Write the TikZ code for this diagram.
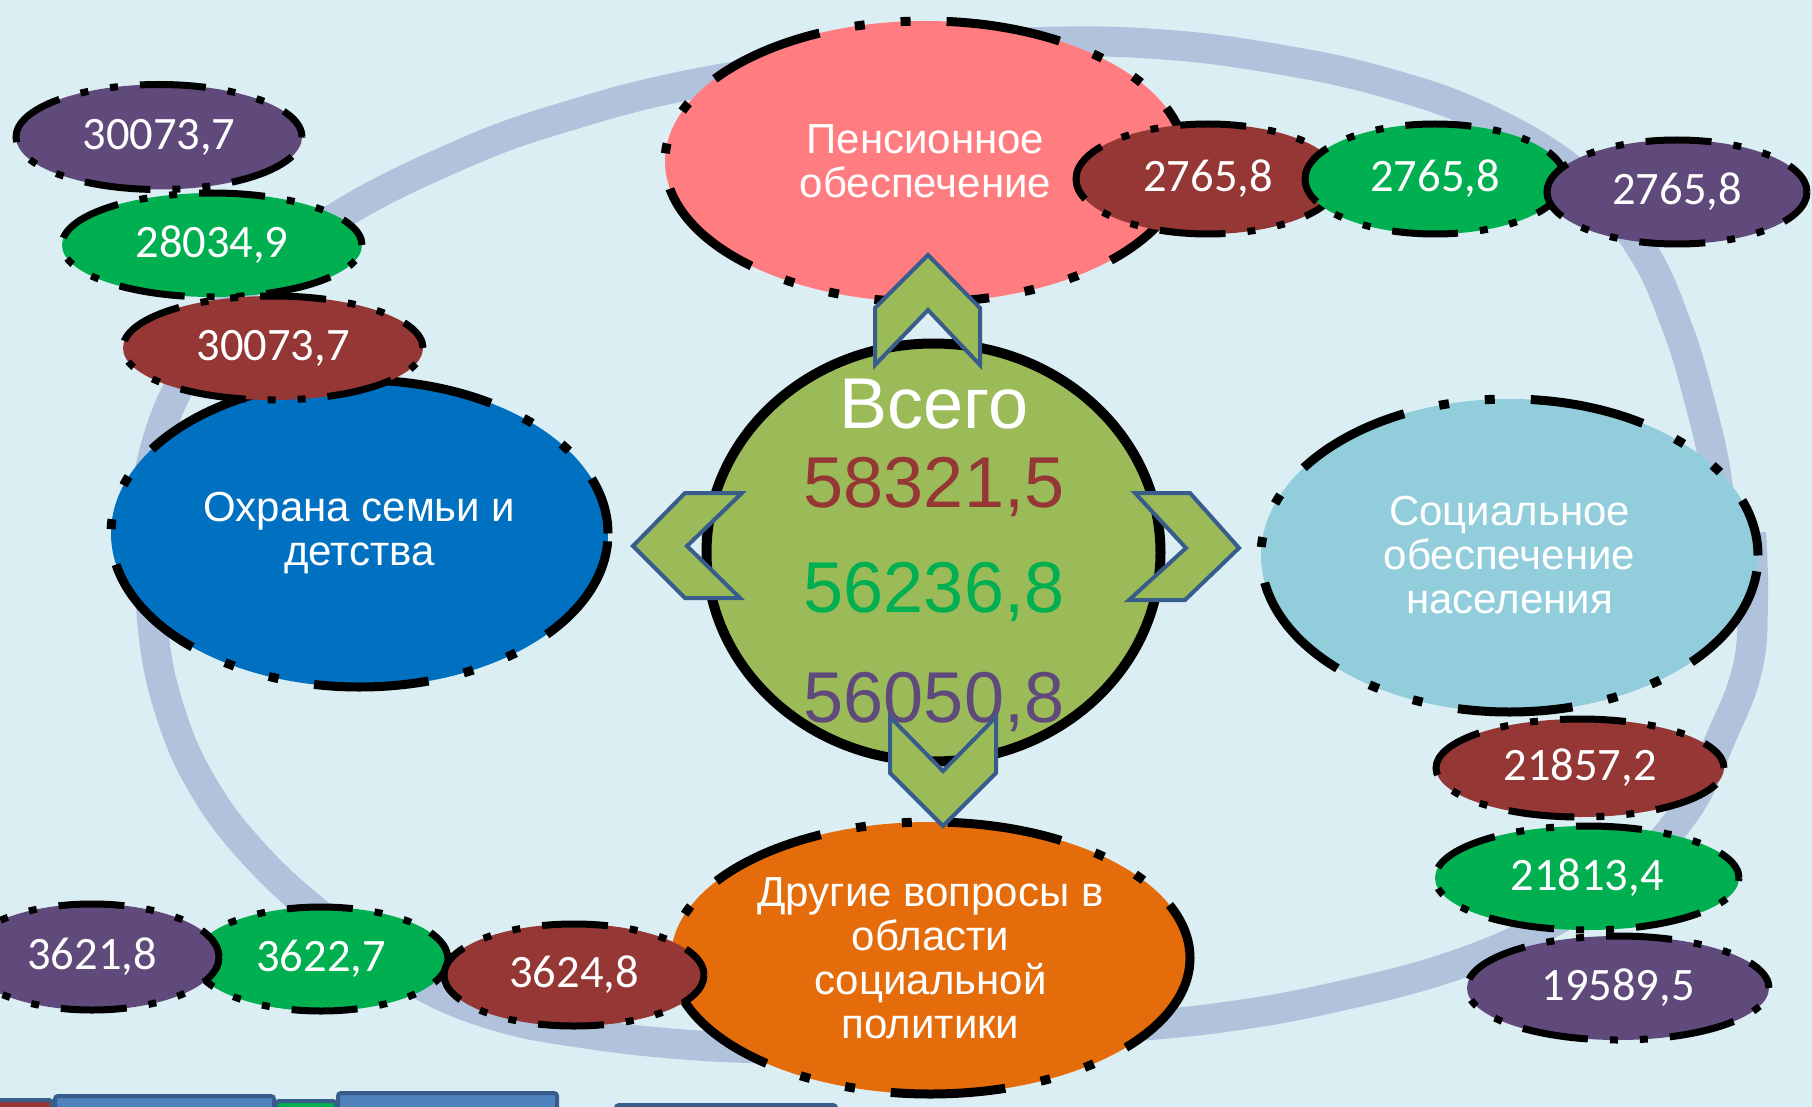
\documentclass[tikz,border=0pt]{standalone}
\usepackage{fontspec}
\setmainfont{Liberation Sans}
\newfontfamily\numfont{Carlito}
\usetikzlibrary{shapes.geometric}
\definecolor{bg}{RGB}{219,238,244}
\definecolor{ringc}{RGB}{177,194,220}
\definecolor{pinkc}{RGB}{255,124,128}
\definecolor{famc}{RGB}{0,112,192}
\definecolor{socc}{RGB}{146,205,220}
\definecolor{othc}{RGB}{228,108,10}
\definecolor{cenc}{RGB}{155,187,89}
\definecolor{redc}{RGB}{149,55,53}
\definecolor{grnc}{RGB}{0,176,80}
\definecolor{purc}{RGB}{96,74,123}
\definecolor{chevb}{RGB}{56,93,138}
\definecolor{barb}{RGB}{79,129,189}
\begin{document}
\begin{tikzpicture}[x=1pt,y=-1pt,
  bigell/.style={ellipse, draw=black, line width=9pt,
    dash pattern=on 115pt off 36pt on 10pt off 36pt on 10pt off 36pt,
    dash phase=57pt,
    inner sep=0pt, text=white, align=center,
    font=\fontsize{42}{44}\selectfont},
  smallell/.style={ellipse, draw=black, line width=7pt,
    dash pattern=on 66pt off 22pt on 8pt off 22pt on 8pt off 22pt,
    dash phase=33pt,
    inner sep=0pt, text=white, font=\numfont\fontsize{46.5}{50}\selectfont},
  chev/.style={fill=cenc, draw=chevb, line width=4pt, line join=miter},
  ringst/.style={draw=ringc, line width=30pt},
  barst/.style={draw=chevb, line width=4pt, rounded corners=3pt},
  totnum/.style={anchor=base, font=\fontsize{72}{72}\selectfont},
]
\useasboundingbox (0,0) rectangle (1812,1107);
\clip (0,0) rectangle (1812,1107);
\fill[bg] (0,0) rectangle (1812,1107);

% bottom bars (remnants)
\draw[barst, fill=redc] (-10,1100) rectangle (52,1140);
\draw[barst, fill=barb] (55,1096) rectangle (274,1140);
\draw[barst, fill=grnc] (276,1101) rectangle (336,1140);
\draw[barst, fill=barb] (338,1093) rectangle (557,1140);
\draw[barst, fill=barb] (616,1105) rectangle (836,1140);

% ring arcs
\draw[ringst] plot[smooth, tension=0.7] coordinates {(150,470) (173,399) (231,303) (329,222) (462,154) (578,113) (693,84) (809,66)};
\draw[ringst] plot[smooth, tension=0.7] coordinates {(924,49) (1040,42) (1156,44) (1271,58) (1387,83) (1491,121) (1583,179) (1641,248) (1676,324) (1699,399) (1716,474) (1722,543)};
\draw[ringst] plot[smooth, tension=0.7] coordinates {(1751,533) (1753,601) (1747,670) (1720,740) (1687,809) (1629,872) (1549,924) (1456,965) (1340,996) (1225,1017) (1109,1028) (1017,1032)};
\draw[ringst] plot[smooth, tension=0.7] coordinates {(150,543) (153,630) (170,711) (203,786) (255,855) (325,919) (405,976) (490,1014) (589,1034) (705,1046) (809,1049)};

% main ellipses
\node[bigell, fill=pinkc, minimum width=521pt, minimum height=281pt] (pens) at (925.5,161.5) {Пенсионное\\обеспечение};
\node[bigell, fill=famc, minimum width=497pt, minimum height=307pt] (fam) at (359.5,533.5) {Охрана семьи и\\детства};
\node[bigell, fill=socc, minimum width=497pt, minimum height=313pt] (soc) at (1509.5,555.5) {Социальное\\обеспечение\\населения};
\node[bigell, fill=othc, minimum width=519pt, minimum height=272pt] (oth) at (930.5,958) {Другие вопросы в\\области\\социальной\\политики};

% centre
\node[ellipse, draw=black, line width=10pt, fill=cenc, inner sep=0pt, minimum width=454pt, minimum height=418pt] (tot) at (933.5,552.5) {};
\node[totnum, text=white] (vsego) at (934,428) {Всего};
\node[totnum, text=redc] (t1) at (934,507) {58321,5};
\node[totnum, text=grnc] (t2) at (934,612) {56236,8};
\node[totnum, text=purc] (t3) at (934,722) {56050,8};

% small ellipses: family group
\node[smallell, fill=purc, minimum width=286pt, minimum height=105pt] (f3) at (159,137) {30073,7};
\node[smallell, fill=grnc, minimum width=300pt, minimum height=104pt] (f2) at (212,245) {28034,9};
\node[smallell, fill=redc, minimum width=300pt, minimum height=104pt] (f1) at (273,348) {30073,7};
% pension group
\node[smallell, fill=redc, minimum width=264pt, minimum height=110pt] (p1) at (1208,179) {2765,8};
\node[smallell, fill=grnc, minimum width=260pt, minimum height=110pt] (p2) at (1435,179) {2765,8};
\node[smallell, fill=purc, minimum width=260pt, minimum height=104pt] (p3) at (1677,192) {2765,8};
% social group
\node[smallell, fill=redc, minimum width=288pt, minimum height=98pt] (s1) at (1580,768) {21857,2};
\node[smallell, fill=grnc, minimum width=304pt, minimum height=104pt] (s2) at (1587,878) {21813,4};
\node[smallell, fill=purc, minimum width=302pt, minimum height=104pt] (s3) at (1618,988) {19589,5};
% other group
\node[smallell, fill=grnc, minimum width=254pt, minimum height=104pt] (o2) at (321,959) {3622,7};
\node[smallell, fill=purc, minimum width=254pt, minimum height=106pt] (o3) at (92,957) {3621,8};
\node[smallell, fill=redc, minimum width=260pt, minimum height=102pt] (o1) at (574,975) {3624,8};

% chevrons
\draw[chev] (875,365) -- (875,308) -- (928,255) -- (980,308) -- (980,365) -- (928,310) -- cycle;
\draw[chev] (890,717) -- (943,771) -- (996,717) -- (996,773) -- (943,826) -- (890,773) -- cycle;
\draw[chev] (633,546) -- (685,493) -- (742,493) -- (687,546) -- (740,598) -- (685,598) -- cycle;
\draw[chev] (1135,493) -- (1190,493) -- (1239,548) -- (1185,600) -- (1129,600) -- (1186,548) -- cycle;
\end{tikzpicture}
\end{document}
